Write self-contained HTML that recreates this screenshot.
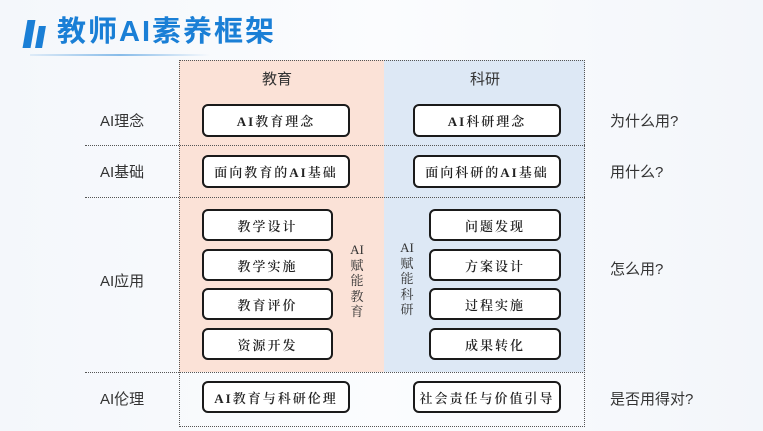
<!DOCTYPE html>
<html><head><meta charset="utf-8"><style>
*{margin:0;padding:0;box-sizing:border-box}
body{width:763px;height:431px;overflow:hidden;position:relative;background:linear-gradient(90deg,#f4f7fb,#fbfcfe 50%,#f3f6fa);font-family:"Liberation Sans","Noto Sans CJK SC",sans-serif}
.a{position:absolute}
.box{position:absolute;border:2px solid #1a1a1a;border-radius:6px;background:#fff;display:flex;align-items:center;justify-content:center;font-family:"Liberation Serif","Noto Serif CJK SC",serif;font-size:13px;color:#222;letter-spacing:2px;font-weight:600}
.hl{position:absolute;left:85px;width:500px;border-top:1.5px dotted #555}
.lab{position:absolute;left:100px;font-size:15px;color:#333}
.rl{position:absolute;left:610px;font-size:15px;color:#333}
.vt{position:absolute;width:16px;font-family:"Liberation Serif","Noto Serif CJK SC",serif;font-size:13px;color:#333;line-height:15.5px;text-align:center}
</style></head><body>
<div class="a" style="left:25px;top:20px;width:8px;height:28px;background:#1a7fd6;transform:skewX(-10deg)"></div>
<div class="a" style="left:37px;top:26px;width:7px;height:22px;background:#1a7fd6;transform:skewX(-10deg)"></div>
<div class="a" style="left:57px;top:8px;font-size:29px;font-weight:bold;color:#1a7fd6;letter-spacing:2px">教师AI素养框架</div>
<div class="a" style="left:30px;top:54px;width:180px;height:2px;background:linear-gradient(90deg,rgba(26,127,214,0.1),rgba(26,127,214,0.5),rgba(26,127,214,0))"></div>
<div class="a" style="left:179px;top:60px;width:205px;height:312px;background:#fbe2d7"></div>
<div class="a" style="left:384px;top:60px;width:201px;height:312px;background:#dde8f5"></div>
<div class="a" style="left:179px;top:60px;width:406px;height:367px;border:1.5px dotted #555"></div>
<div class="hl" style="top:145px"></div>
<div class="hl" style="top:197px"></div>
<div class="hl" style="top:372px"></div>
<div class="a" style="left:262px;top:68px;font-size:15px;color:#333">教育</div>
<div class="a" style="left:470px;top:68px;font-size:15px;color:#333">科研</div>
<div class="lab" style="top:110px">AI理念</div>
<div class="lab" style="top:161px">AI基础</div>
<div class="lab" style="top:270px">AI应用</div>
<div class="lab" style="top:388px">AI伦理</div>
<div class="rl" style="top:110px">为什么用?</div>
<div class="rl" style="top:161px">用什么?</div>
<div class="rl" style="top:258px">怎么用?</div>
<div class="rl" style="top:388px">是否用得对?</div>
<div class="box" style="left:202px;top:104px;width:148px;height:33px">AI教育理念</div>
<div class="box" style="left:413px;top:104px;width:148px;height:33px">AI科研理念</div>
<div class="box" style="left:202px;top:155px;width:148px;height:33px">面向教育的AI基础</div>
<div class="box" style="left:413px;top:155px;width:148px;height:33px">面向科研的AI基础</div>
<div class="box" style="left:202px;top:209px;width:131px;height:32px">教学设计</div>
<div class="box" style="left:202px;top:249px;width:131px;height:32px">教学实施</div>
<div class="box" style="left:202px;top:288px;width:131px;height:32px">教育评价</div>
<div class="box" style="left:202px;top:328px;width:131px;height:32px">资源开发</div>
<div class="box" style="left:429px;top:209px;width:132px;height:32px">问题发现</div>
<div class="box" style="left:429px;top:249px;width:132px;height:32px">方案设计</div>
<div class="box" style="left:429px;top:288px;width:132px;height:32px">过程实施</div>
<div class="box" style="left:429px;top:328px;width:132px;height:32px">成果转化</div>
<div class="vt" style="left:349px;top:242px">AI<br>赋<br>能<br>教<br>育</div>
<div class="vt" style="left:399px;top:240px">AI<br>赋<br>能<br>科<br>研</div>
<div class="box" style="left:202px;top:381px;width:148px;height:32px">AI教育与科研伦理</div>
<div class="box" style="left:413px;top:381px;width:148px;height:32px">社会责任与价值引导</div>
</body></html>
